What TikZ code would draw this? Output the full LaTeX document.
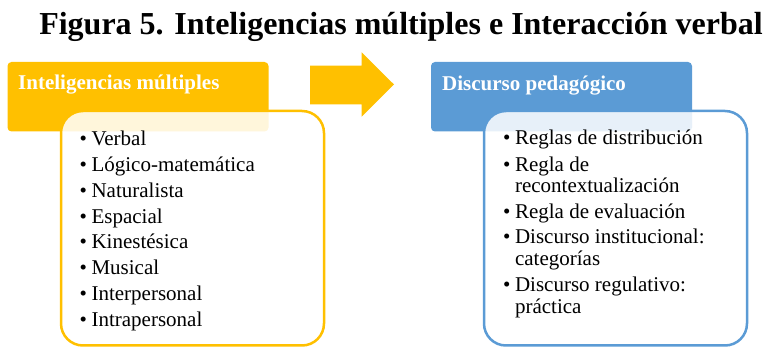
\documentclass[tikz,border=0pt]{standalone}
\usepackage{fontspec}
\setmainfont{Liberation Serif}
\usepackage{xcolor}
\definecolor{igold}{RGB}{255,192,0}
\definecolor{iblue}{RGB}{91,155,213}

\begin{document}
\begin{tikzpicture}[x=1pt, y=-1pt]
\useasboundingbox (0,0) rectangle (764,347);

% Title
\node[anchor=base, inner sep=0pt, font=\fontsize{32}{36}\selectfont\bfseries] (title) at (401,35)
  {Figura 5. Inteligencias múltiples e Interacción verbal};

% Headers
\fill[igold, rounded corners=4pt] (7.5,62) rectangle (268.5,131.5);
\fill[iblue, rounded corners=4pt] (431,62) rectangle (692,131.5);

% Bodies
\draw[igold, line width=2.5pt, fill=white, fill opacity=0.86, rounded corners=22pt] (61,111) rectangle (324,345.5);
\draw[iblue, line width=2.5pt, fill=white, fill opacity=0.86, rounded corners=22pt] (484,111) rectangle (747,345.5);

% Header texts
\node[anchor=base west, inner sep=0pt, text=white, font=\fontsize{21}{22}\selectfont\bfseries] (intel) at (18,90)
  {Inteligencias múltiples};
\node[anchor=base west, inner sep=0pt, text=white, font=\fontsize{21}{22}\selectfont\bfseries] (disc) at (442,91)
  {Discurso pedagógico};

% Arrow
\fill[igold] (310,65.7) -- (361.7,65.7) -- (361.7,52.3) -- (394,84.5) -- (361.7,116.7)
  -- (361.7,104.3) -- (310,104.3) -- cycle;

% Lists
\node[anchor=base west, inner sep=0pt, font=\fontsize{21}{21.5}\selectfont] (intellist) at (79.5,145.7) {%
  \begin{tabular}[t]{@{}c@{\hspace{4.5pt}}l@{}}
  • & Verbal\\[4.3pt]
  • & Lógico-matemática\\[4.3pt]
  • & Naturalista\\[4.3pt]
  • & Espacial\\[4.3pt]
  • & Kinestésica\\[4.3pt]
  • & Musical\\[4.3pt]
  • & Interpersonal\\[4.3pt]
  • & Intrapersonal
  \end{tabular}};
\node[anchor=base west, inner sep=0pt, font=\fontsize{21}{21.5}\selectfont] (disclist) at (503,145) {%
  \begin{tabular}[t]{@{}c@{\hspace{4.5pt}}l@{}}
  • & Reglas de distribución\\[5pt]
  • & Regla de\\
    & recontextualización\\[4pt]
  • & Regla de evaluación\\[4pt]
  • & Discurso institucional:\\
    & categorías\\[5pt]
  • & Discurso regulativo:\\
    & práctica
  \end{tabular}};
\end{tikzpicture}
\end{document}
